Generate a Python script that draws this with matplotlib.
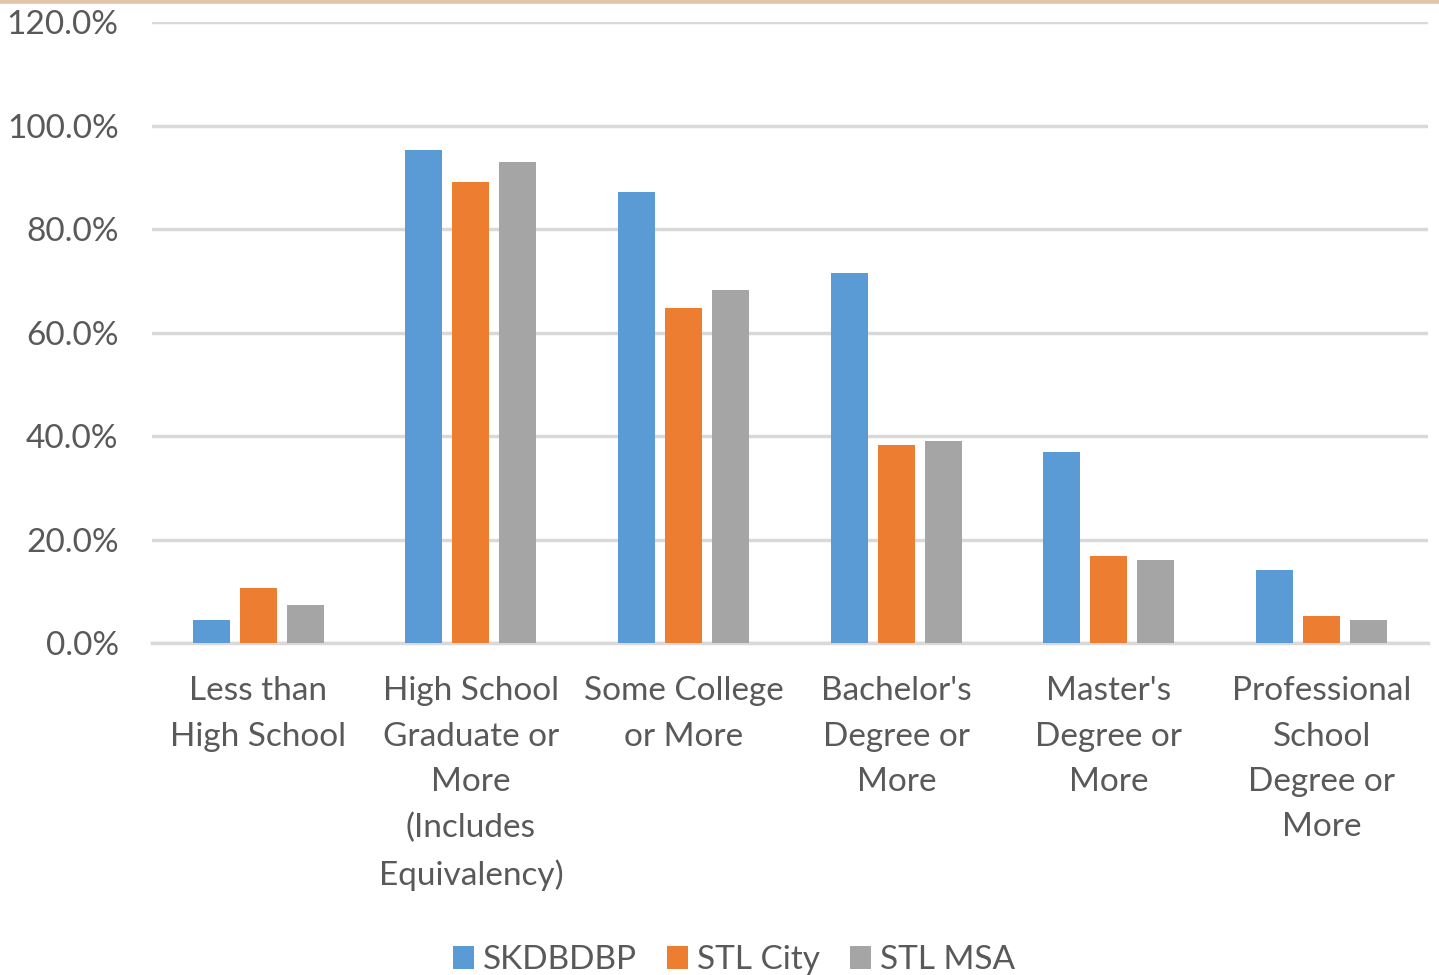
import matplotlib
matplotlib.use("Agg")
import matplotlib.pyplot as plt
import numpy as np
from matplotlib.ticker import FuncFormatter

plt.rcParams['font.family'] = ['Lato', 'DejaVu Sans']

# categorias del eje x
categorias = ["Less than\nHigh School",
              "High School\nGraduate or\nMore\n(Includes\nEquivalency)",
              "Some College\nor More",
              "Bachelor's\nDegree or\nMore",
              "Master's\nDegree or\nMore",
              "Professional\nSchool\nDegree or\nMore"]
series = ["SKDBDBP", "STL City", "STL MSA"]
skdbdbp = [4.5, 95.3, 87.2, 71.5, 37.0, 14.1]
stl_city = [10.7, 89.1, 64.7, 38.2, 16.9, 5.2]
stl_msa = [7.4, 93.0, 68.2, 39.0, 16.1, 4.5]
colores = ['#5B9BD5', '#ED7D31', '#A5A5A5']

texto = '#595959'

fig = plt.figure(figsize=(14.39, 9.75), dpi=100)
ax = fig.add_axes([0.1056, 0.3405, 0.8867, 0.6369])

x = np.arange(len(categorias))
ancho = 0.174
paso = 0.221
for k, (nombre, vals) in enumerate(zip(series, [skdbdbp, stl_city, stl_msa])):
    ax.bar(x + (k - 1) * paso, vals, ancho, color=colores[k], label=nombre,
           zorder=3)

ax.set_xlim(-0.5, len(categorias) - 0.5)
ax.set_ylim(0, 120)
ax.set_yticks(range(0, 121, 20))
ax.yaxis.set_major_formatter(FuncFormatter(lambda v, p: f"{v:.1f}%"))
ax.grid(axis='y', color='#D9D9D9', linewidth=2.5, zorder=0)
ax.set_xticks(x)
ax.set_xticklabels(categorias, linespacing=1.64)
ax.tick_params(axis='both', length=0, colors=texto, labelsize=24)
ax.tick_params(axis='x', pad=24)
ax.tick_params(axis='y', pad=24)
for s in ['top', 'right', 'left']:
    ax.spines[s].set_visible(False)
ax.spines['bottom'].set_color('#D9D9D9')
ax.spines['bottom'].set_linewidth(2.5)

leg = fig.legend(loc='lower center', bbox_to_anchor=(0.510, -0.031), ncol=3,
                 frameon=False, fontsize=24, handlelength=0.65, handleheight=0.65,
                 handletextpad=0.25, columnspacing=0.9)
for t in leg.get_texts():
    t.set_color(texto)

# linea superior de color
fig.add_artist(plt.Line2D([0, 1], [0.9985, 0.9985], color='#E2C4A8',
                          linewidth=4, transform=fig.transFigure))

fig.savefig('out.png', dpi=100)
